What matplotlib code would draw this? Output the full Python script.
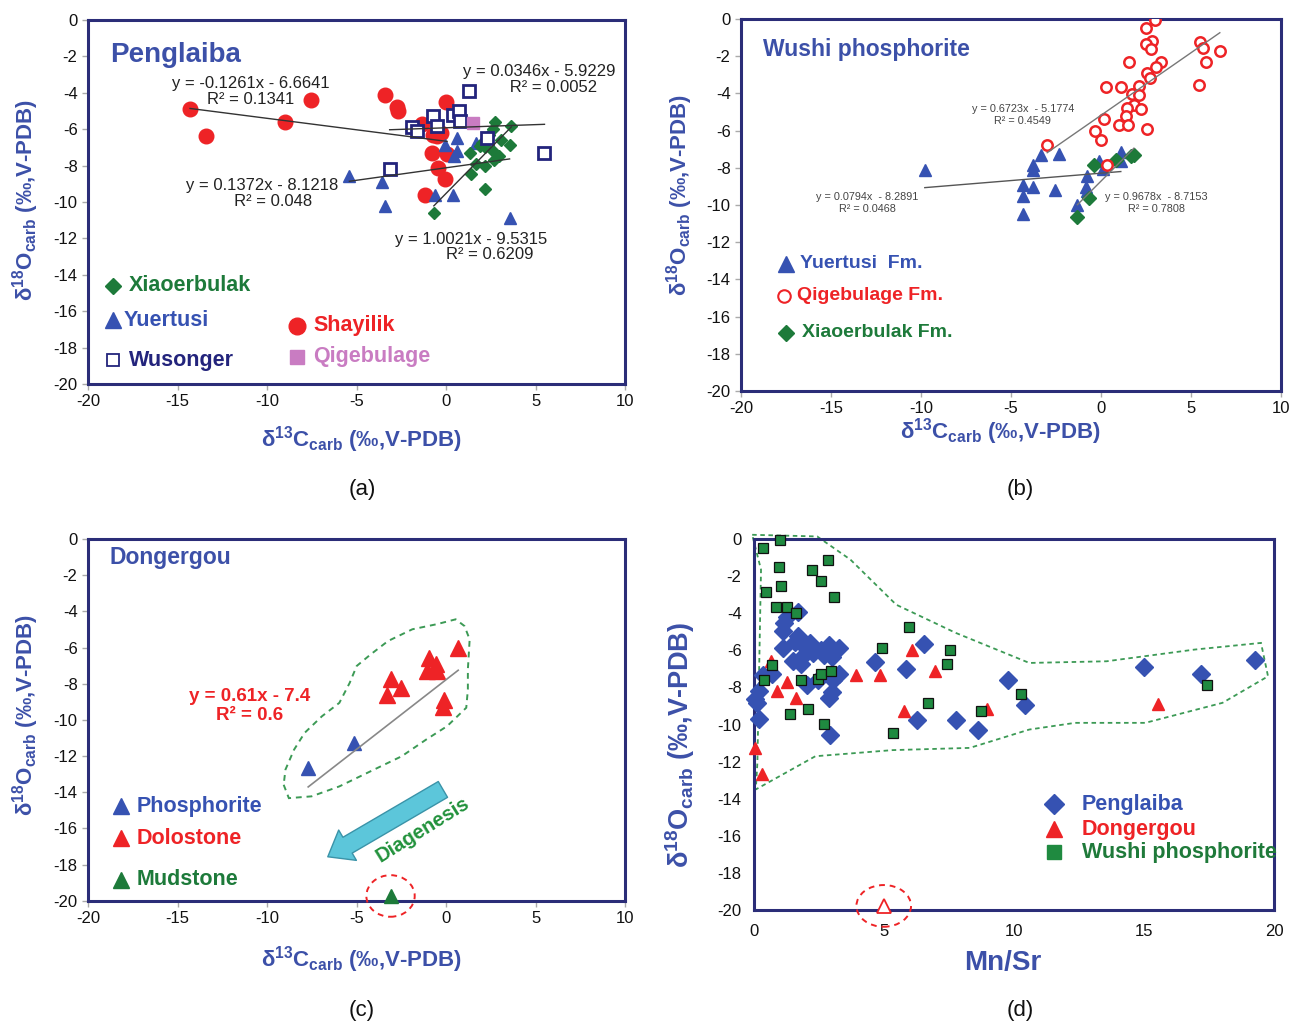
import matplotlib
matplotlib.use('Agg')
import matplotlib.pyplot as plt
import numpy as np
from matplotlib.patches import Ellipse, Polygon, FancyArrowPatch

plt.rcParams['font.family'] = ['Liberation Sans', 'DejaVu Sans']
plt.rcParams['mathtext.fontset'] = 'custom'
plt.rcParams['mathtext.rm'] = 'Liberation Sans'
plt.rcParams['mathtext.bf'] = 'Liberation Sans:bold'
plt.rcParams['mathtext.it'] = 'Liberation Sans:italic'
plt.rcParams['axes.unicode_minus'] = False

# ---------------- Panel (a) Penglaiba ----------------
a_shay_x = [-14.3, -13.4, -9.0, -7.55, -3.4, -2.76, -2.66, -1.34, 0.0, -0.72, -0.3, -0.5, -0.76, 0.06, -0.43, -0.04, -1.15]
a_shay_y = [-4.9, -6.4, -5.6, -4.4, -4.1, -4.76, -5.0, -5.7, -4.5, -6.3, -6.2, -6.4, -7.3, -7.35, -8.15, -8.76, -9.63]
a_wus_x = [1.28, -0.72, 0.4, 0.74, 0.8, -0.5, -1.9, -1.6, 2.29, 5.5, -3.15]
a_wus_y = [-3.9, -5.28, -5.2, -5.0, -5.55, -5.8, -5.9, -6.1, -6.5, -7.3, -8.2]
a_qig_x = [1.48]
a_qig_y = [-5.65]
a_yue_x = [-5.4, -3.6, -3.4, -0.6, 0.4, -0.04, 0.6, 0.64, 0.45, 1.7, 3.55]
a_yue_y = [-8.6, -8.9, -10.2, -9.6, -9.6, -6.85, -6.5, -7.2, -7.5, -6.75, -10.9]
a_xia_x = [2.74, 3.65, 2.6, 2.4, 3.07, 3.6, 2.0, 2.2, 1.36, 2.6, 2.97, 1.65, 2.2, 1.42, 2.15, -0.68, 1.9, 2.68]
a_xia_y = [-5.6, -5.8, -6.0, -6.3, -6.6, -6.85, -6.75, -7.0, -7.3, -7.2, -7.5, -7.9, -8.05, -8.46, -9.26, -10.6, -6.95, -7.7]
# trend lines: slope, intercept
a_fit_shay = (-0.1261, -6.6641)
a_fit_wus = (0.0346, -5.9229)
a_fit_yue = (0.1372, -8.1218)
a_fit_xia = (1.0021, -9.5315)

# ---------------- Panel (b) Wushi phosphorite ----------------
b_qig_x = [2.99, 2.5, 2.83, 2.5, 2.76, 5.49, 5.68, 6.6, 5.84, 1.54, 3.31, 3.08, 2.56, 2.7, 5.43, 0.29, 1.12, 2.12,
           1.73, 2.12, 1.83, 1.45, 2.22, 1.39, 0.15, 1.02, 1.5, 2.56, -0.33, 0.0, -2.99, 0.35]
b_qig_y = [-0.05, -0.5, -1.18, -1.36, -1.6, -1.25, -1.57, -1.72, -2.29, -2.29, -2.29, -2.6, -2.9, -3.18, -3.54, -3.68,
           -3.68, -3.63, -4.04, -4.08, -4.6, -4.8, -4.83, -5.19, -5.37, -5.69, -5.69, -5.9, -6.0, -6.53, -6.76, -7.87]
b_yue_x = [-9.79, -3.33, -2.35, -3.76, -3.76, -4.34, -3.8, -2.54, -4.34, -4.34, -0.77, -0.81, -0.77, -1.35, -0.1, 0.1, 1.1, 1.1]
b_yue_y = [-8.1, -7.33, -7.26, -7.84, -8.1, -8.9, -9.05, -9.18, -9.54, -10.48, -8.46, -9.05, -9.27, -9.98, -7.66, -8.05, -7.16, -7.66]
b_xia_x = [-0.39, 0.83, 1.64, 1.83, -0.67, -1.31]
b_xia_y = [-7.87, -7.57, -7.39, -7.3, -9.62, -10.66]
b_fit_qig = (0.6723, -5.1774)
b_fit_yue = (0.0794, -8.2891)
b_fit_xia = (0.9678, -8.7153)

# ---------------- Panel (c) Dongergou ----------------
c_pho_x = [-7.7, -5.15]
c_pho_y = [-12.66, -11.28]
c_dol_x = [0.68, -0.95, -0.56, -1.07, -0.52, -3.05, -2.52, -3.3, -0.1, -0.17]
c_dol_y = [-6.0, -6.56, -6.93, -7.3, -7.3, -7.73, -8.23, -8.6, -8.9, -9.28]
c_mud_x = [-3.1]
c_mud_y = [-19.74]
c_fit = (0.77, -7.78)
c_env_x = [-9.07, -8.78, -7.51, -5.96, -4.02, -2.47, -1.11, 0.06, 1.13, 1.22, 1.22, 1.32, 1.03, 0.54, -0.52,
           -1.88, -3.24, -4.21, -4.99, -5.38, -5.96, -6.93, -7.9, -8.49, -8.97]
c_env_y = [-13.59, -14.33, -14.23, -13.68, -12.75, -12.01, -11.09, -10.35, -9.33, -8.32, -7.21, -5.55, -4.81, -4.44,
           -4.71, -4.99, -5.64, -6.38, -7.02, -7.95, -9.06, -9.8, -10.72, -11.65, -12.75]

# ---------------- Panel (d) Mn/Sr ----------------
d_pen_x = [0.02, 0.13, 0.2, 0.18, 0.34, 0.7, 1.1, 1.12, 1.15, 1.28, 1.71, 1.71, 1.58, 1.82, 2.16, 1.51, 1.82, 1.93,
           2.25, 2.56, 2.7, 2.88, 3.01, 3.27, 2.47, 2.04, 3.04, 3.28, 3.01, 2.87, 2.94, 4.66, 5.84, 6.55, 6.28,
           7.76, 8.6, 9.78, 10.42, 15.0, 17.2, 19.26]
d_pen_y = [-8.65, -8.83, -8.2, -9.7, -7.34, -7.25, -5.87, -4.97, -4.52, -4.2, -3.95, -5.24, -5.55, -5.6, -5.6, -6.55,
           -6.73, -6.23, -6.14, -6.0, -6.23, -5.69, -6.37, -5.87, -7.61, -7.85, -7.58, -7.25, -8.26, -8.56, -10.59,
           -6.62, -7.0, -5.66, -9.73, -9.73, -10.27, -7.61, -8.96, -6.91, -7.25, -6.54]
d_don_x = [0.04, 0.31, 0.67, 0.88, 1.28, 1.62, 3.91, 4.83, 6.07, 6.95, 5.78, 8.95, 15.55]
d_don_y = [-11.26, -12.69, -6.59, -8.2, -7.7, -8.56, -7.31, -7.31, -6.0, -7.13, -9.28, -9.19, -8.92]
d_don_out_x = [4.99]
d_don_out_y = [-19.78]
d_wus_x = [0.99, 0.36, 0.97, 2.83, 2.23, 2.56, 1.04, 0.47, 3.06, 0.84, 1.26, 1.62, 5.98, 4.93, 7.53, 7.42, 0.7, 0.4,
           1.82, 2.47, 2.59, 2.97, 1.38, 2.09, 2.7, 6.68, 5.36, 8.74, 10.28, 17.41]
d_wus_y = [-0.04, -0.48, -1.5, -1.15, -1.65, -2.28, -2.55, -2.87, -3.14, -3.66, -3.66, -3.99, -4.76, -5.87, -6.0,
           -6.71, -6.77, -7.58, -7.61, -7.54, -7.25, -7.13, -9.43, -9.16, -9.96, -8.83, -10.45, -9.28, -8.35, -7.85]
d_env_x = [-0.07, 2.43, 3.71, 5.47, 7.76, 10.59, 13.56, 16.94, 19.5, 19.77, 18.02, 15.05, 12.35, 10.59, 8.3, 5.33,
           2.36, 0.07, 0.13, 0.27]
d_env_y = [0.23, 0.14, -1.11, -3.54, -5.06, -6.68, -6.59, -5.96, -5.6, -7.4, -8.83, -9.91, -9.91, -10.27, -11.26,
           -11.38, -11.71, -13.5, -12.06, -1.65]

# ---------------- styling ----------------
FRAME = '#2b2d78'
BLUE_T = '#3c50a8'
RED = '#ee2326'
GREEN = '#1d7a3a'
BLUE_M = '#3652b2'
NAVY = '#23247c'
PINK = '#c97cc2'

fig = plt.figure(figsize=(13, 10.25), dpi=100)

ylab = r'$\mathbf{δ^{18}O_{carb}}$ (‰,V-PDB)'
xlab = r'$\mathbf{δ^{13}C_{carb}}$ (‰,V-PDB)'


def style(ax, xlim, ylim, xticks):
    ax.set_xlim(*xlim)
    ax.set_ylim(*ylim)
    ax.set_xticks(xticks)
    ax.set_yticks(np.arange(-20, 1, 2))
    for s in ax.spines.values():
        s.set_color(FRAME)
        s.set_linewidth(2.2)
    ax.tick_params(axis='both', labelsize=12, colors='#aaaaaa', labelcolor='#111111', length=4, width=1)


def labels(ax, xl, xpos, yl, ypos, xsize=16, ysize=16):
    ax.set_xlabel(xl, fontsize=xsize, fontweight='bold', color=BLUE_T)
    ax.xaxis.set_label_coords(*xpos)
    ax.xaxis.label.set_verticalalignment('center')
    ax.set_ylabel(yl, fontsize=ysize, fontweight='bold', color=BLUE_T)
    ax.yaxis.set_label_coords(*ypos)
    ax.yaxis.label.set_verticalalignment('center')


def trend(ax, xs, fit, color='#333333', lw=1.0):
    x0, x1 = min(xs), max(xs)
    xx = np.array([x0, x1])
    ax.plot(xx, fit[0] * xx + fit[1], color=color, lw=lw, zorder=4)


lg = dict(fontsize=15.5, fontweight='bold', va='center', ha='left')

# ---- (a)
ax = fig.add_axes([0.0677, 0.6254, 0.4131, 0.3551])
style(ax, (-20, 10), (-20, 0), np.arange(-20, 11, 5))
ax.plot(a_shay_x, a_shay_y, 'o', ms=10.5, color=RED, mec=RED, zorder=3)
ax.plot(a_yue_x, a_yue_y, '^', ms=8.5, color=BLUE_M, mec=BLUE_M, zorder=3)
ax.plot(a_xia_x, a_xia_y, 'D', ms=6, color=GREEN, mec=GREEN, zorder=3)
ax.plot(a_wus_x, a_wus_y, 's', ms=8.5, mfc='white', mec=NAVY, mew=2, zorder=3)
ax.plot(a_qig_x, a_qig_y, 's', ms=9, color=PINK, mec=PINK, zorder=3)
trend(ax, a_shay_x, a_fit_shay)
trend(ax, a_wus_x, a_fit_wus)
trend(ax, a_yue_x, a_fit_yue)
trend(ax, a_xia_x, a_fit_xia)
eqa = dict(fontsize=12, color='#222222', ha='center', va='center', linespacing=1.05)
ax.text(-10.9, -3.94, 'y = -0.1261x - 6.6641\nR² = 0.1341', **eqa)
ax.text(5.2, -3.27, 'y = 0.0346x - 5.9229\n      R² = 0.0052', **eqa)
ax.text(-10.3, -9.52, 'y = 0.1372x - 8.1218\n     R² = 0.048', **eqa)
ax.text(1.42, -12.47, 'y = 1.0021x - 9.5315\n        R² = 0.6209', **eqa)
ax.text(0.042, 0.905, 'Penglaiba', transform=ax.transAxes, fontsize=20, fontweight='bold', color=BLUE_T,
        ha='left', va='center')
ax.plot([-18.6], [-14.6], 'D', ms=8, color=GREEN, clip_on=False)
ax.text(-17.7, -14.6, 'Xiaoerbulak', color=GREEN, **lg)
ax.plot([-18.6], [-16.5], '^', ms=11, color=BLUE_M, clip_on=False)
ax.text(-18.0, -16.5, 'Yuertusi', color=BLUE_M, **lg)
ax.plot([-18.6], [-18.7], 's', ms=9, mfc='white', mec=NAVY, mew=1.3, clip_on=False)
ax.text(-17.7, -18.7, 'Wusonger', color=NAVY, **lg)
ax.plot([-8.33], [-16.8], 'o', ms=12, color=RED)
ax.text(-7.4, -16.8, 'Shayilik', color=RED, **lg)
ax.plot([-8.33], [-18.5], 's', ms=10, color=PINK)
ax.text(-7.4, -18.5, 'Qigebulage', color=PINK, **lg)
labels(ax, xlab, (0.51, -0.154), ylab, (-0.117, 0.505))

# ---- (b)
ax = fig.add_axes([0.570, 0.6185, 0.4154, 0.363])
style(ax, (-20, 10), (-20, 0), np.arange(-20, 11, 5))
ax.plot(b_yue_x, b_yue_y, '^', ms=9, color=BLUE_M, mec=BLUE_M, zorder=3)
ax.plot(b_xia_x, b_xia_y, 'D', ms=7, color=GREEN, mec=GREEN, zorder=3)
ax.plot(b_qig_x, b_qig_y, 'o', ms=7.5, mfc='white', mec=RED, mew=1.8, zorder=3)
trend(ax, b_qig_x, b_fit_qig, color='#777777')
trend(ax, b_yue_x, b_fit_yue, color='#555555')
trend(ax, b_xia_x, b_fit_xia, color='#777777')
eqb = dict(fontsize=7.8, color='#444444', ha='center', va='center', linespacing=1.2)
ax.text(-4.34, -5.15, 'y = 0.6723x  - 5.1774\nR² = 0.4549', **eqb)
ax.text(-13.0, -9.88, 'y = 0.0794x  - 8.2891\nR² = 0.0468', **eqb)
ax.text(3.08, -9.88, 'y = 0.9678x  - 8.7153\nR² = 0.7808', **eqb)
ax.text(0.04, 0.917, 'Wushi phosphorite', transform=ax.transAxes, fontsize=16.5, fontweight='bold', color=BLUE_T,
        ha='left', va='center')
lgb = dict(lg, fontsize=14)
ax.plot([-17.5], [-13.17], '^', ms=11, color=BLUE_M)
ax.text(-16.7, -13.17, 'Yuertusi  Fm.', color=BLUE_M, **lgb)
ax.plot([-17.6], [-14.87], 'o', ms=9, mfc='white', mec=RED, mew=1.5)
ax.text(-16.9, -14.87, 'Qigebulage Fm.', color=RED, **lgb)
ax.plot([-17.5], [-16.87], 'D', ms=8, color=GREEN)
ax.text(-16.6, -16.87, 'Xiaoerbulak Fm.', color=GREEN, **lgb)
labels(ax, xlab, (0.48, -0.11), ylab, (-0.113, 0.527))

# ---- (c)
ax = fig.add_axes([0.0677, 0.1213, 0.4131, 0.3528])
style(ax, (-20, 10), (-20, 0), np.arange(-20, 11, 5))
ax.add_patch(Polygon(np.column_stack([c_env_x, c_env_y]), closed=True, fill=False, ec='#3c9a55',
                     ls=(0, (3, 2.5)), lw=1.4, zorder=2))
trend(ax, c_pho_x + c_dol_x, c_fit, color='#888888', lw=1.2)
ax.plot(c_pho_x, c_pho_y, '^', ms=10, color=BLUE_M, zorder=3)
ax.plot(c_dol_x, c_dol_y, '^', ms=11, color=RED, zorder=3)
ax.plot(c_mud_x, c_mud_y, '^', ms=10, color=GREEN, zorder=5, clip_on=False)
ax.add_patch(Ellipse((c_mud_x[0], c_mud_y[0]), 2.7, 2.3, fill=False, ec=RED, ls=(0, (3, 2.5)), lw=1.4,
                     clip_on=False, zorder=5))
ax.add_patch(FancyArrowPatch((-0.04, -13.77), (-6.74, -17.65),
                             arrowstyle='simple,head_width=2.3,head_length=1.5,tail_width=1.2',
                             mutation_scale=11, fc='#5cc6da', ec='#3a93a8', lw=1.0, zorder=4))
ax.text(-1.3, -16.1, 'Diagenesis', fontsize=14.5, fontweight='bold', color='#22923c', rotation=32,
        ha='center', va='center')
ax.text(-10.97, -9.23, 'y = 0.61x - 7.4\nR² = 0.6', fontsize=13.5, fontweight='bold', color=RED,
        ha='center', va='center', linespacing=1.2)
ax.text(0.04, 0.949, 'Dongergou', transform=ax.transAxes, fontsize=16.5, fontweight='bold', color=BLUE_T,
        ha='left', va='center')
ax.plot([-18.15], [-14.79], '^', ms=11, color=BLUE_M)
ax.text(-17.3, -14.79, 'Phosphorite', color=BLUE_M, **lg)
ax.plot([-18.15], [-16.54], '^', ms=11, color=RED)
ax.text(-17.3, -16.54, 'Dolostone', color=RED, **lg)
ax.plot([-18.15], [-18.85], '^', ms=11, color=GREEN)
ax.text(-17.3, -18.85, 'Mudstone', color=GREEN, **lg)
labels(ax, xlab, (0.51, -0.163), ylab, (-0.117, 0.514))

# ---- (d)
ax = fig.add_axes([0.580, 0.1122, 0.400, 0.3619])
style(ax, (0, 20), (-20, 0), np.arange(0, 21, 5))
ax.tick_params(axis='both', length=0)
ax.tick_params(axis='y', pad=9)
ax.tick_params(axis='x', pad=10)
ax.add_patch(Polygon(np.column_stack([d_env_x, d_env_y]), closed=True, fill=False, ec='#3c9a55',
                     ls=(0, (2.5, 2)), lw=1.3, zorder=2, clip_on=False))
ax.plot(d_pen_x, d_pen_y, 'D', ms=9.5, color=BLUE_M, mec=BLUE_M, zorder=3, clip_on=False)
ax.plot(d_don_x, d_don_y, '^', ms=9, color=RED, zorder=4, clip_on=False)
ax.plot(d_wus_x, d_wus_y, 's', ms=6.5, color='#1f8a40', mec='#111111', mew=0.9, zorder=5, clip_on=False)
ax.plot(d_don_out_x, d_don_out_y, '^', ms=10, mfc='white', mec=RED, mew=1.3, zorder=5, clip_on=False)
ax.add_patch(Ellipse((d_don_out_x[0], d_don_out_y[0]), 2.1, 2.25, fill=False, ec=RED, ls=(0, (3, 2.5)),
                     lw=1.4, clip_on=False, zorder=5))
ax.plot([11.54], [-14.31], 'D', ms=10, color=BLUE_M)
ax.text(12.6, -14.31, 'Penglaiba', color=BLUE_M, **lg)
ax.plot([11.54], [-15.65], '^', ms=11, color=RED)
ax.text(12.6, -15.65, 'Dongergou', color=RED, **lg)
ax.plot([11.54], [-16.9], 's', ms=10, color='#1f8a40')
ax.text(12.6, -16.9, 'Wushi phosphorite', color='#1f7a3a', **lg)
labels(ax, 'Mn/Sr', (0.479, -0.143), ylab, (-0.142, 0.445), xsize=20, ysize=19.5)

for (px, py, t) in [(0.2785, 0.522, '(a)'), (0.785, 0.522, '(b)'), (0.2785, 0.0146, '(c)'), (0.785, 0.0146, '(d)')]:
    fig.text(px, py, t, fontsize=16, ha='center', va='center', color='#111111')

fig.savefig('out.png', dpi=100)
